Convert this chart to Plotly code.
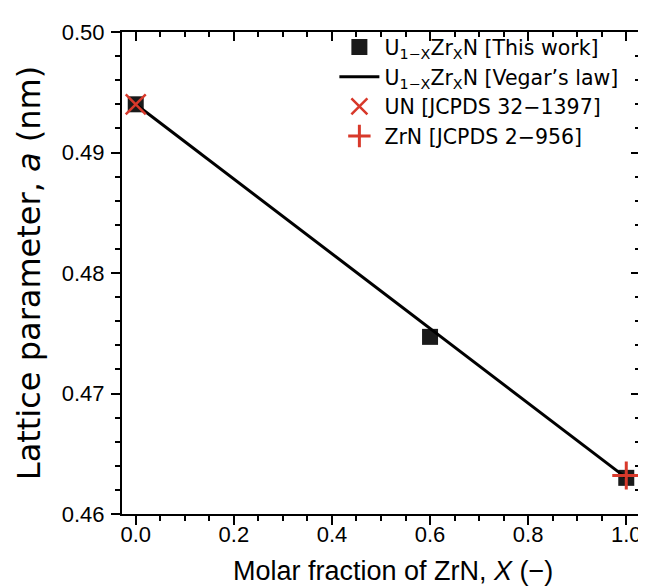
import plotly.graph_objects as go

# Data
x_work = [0.0, 0.6, 1.0]
a_work = [0.4940, 0.4747, 0.4630]
x_vegard = [0.0, 1.0]
a_vegard = [0.4940, 0.4630]
x_un = [0.0]
a_un = [0.4940]
x_zrn = [1.0]
a_zrn = [0.4632]

xticks = [0.0, 0.2, 0.4, 0.6, 0.8, 1.0]
xticklabels = ["0.0", "0.2", "0.4", "0.6", "0.8", "1.0"]
yticks = [0.46, 0.47, 0.48, 0.49, 0.50]
yticklabels = ["0.46", "0.47", "0.48", "0.49", "0.50"]
x_title = "Molar fraction of ZrN, <i>X</i> (−)"
y_title = "Lattice parameter, <i>a</i> (nm)"

FONT = "Liberation Sans"
WFONT = "DejaVu Sans"
RED = "#d8392b"
xr = [-0.028, 1.028]
yr = [0.46, 0.50]

fig = go.Figure()
fig.add_trace(go.Scatter(x=x_work, y=a_work, mode="markers",
                         marker=dict(symbol="square", size=16, color="#1a1a1a"),
                         name="U<sub>1−X</sub>Zr<sub>X</sub>N [This work]"))
fig.add_trace(go.Scatter(x=x_vegard, y=a_vegard, mode="lines",
                         line=dict(color="black", width=3),
                         name="U<sub>1−X</sub>Zr<sub>X</sub>N [Vegar’s law]"))
fig.add_trace(go.Scatter(x=x_un, y=a_un, mode="markers",
                         marker=dict(symbol="x-thin", size=20, line=dict(color=RED, width=2.5)),
                         name="UN [JCPDS 32−1397]"))
fig.add_trace(go.Scatter(x=x_zrn, y=a_zrn, mode="markers",
                         marker=dict(symbol="cross-thin", size=20, line=dict(color=RED, width=3)),
                         name="ZrN [JCPDS 2−956]"))
# invisible trace for mirrored inside-tick axes
fig.add_trace(go.Scatter(x=x_vegard, y=a_vegard, xaxis="x2", yaxis="y2", mode="lines",
                         line=dict(width=0), opacity=0, showlegend=False, hoverinfo="skip"))

axis_common = dict(showgrid=False, zeroline=False, showline=True, linecolor="black", linewidth=2,
                   tickcolor="black", tickwidth=2)

fig.update_layout(
    width=646, height=588,
    margin=dict(l=114, r=12, t=19, b=82),
    plot_bgcolor="white", paper_bgcolor="white",
    font=dict(family=FONT, color="black"),
    showlegend=True,
    legend=dict(x=0.41, y=1.01, xanchor="left", yanchor="top", bgcolor="rgba(0,0,0,0)",
                font=dict(family=WFONT, size=20.5, color="black"), tracegroupgap=0,
                itemwidth=40),
    xaxis=dict(range=xr, tickvals=xticks, ticktext=xticklabels, ticks="outside", ticklen=9,
               tickfont=dict(size=22, family=FONT), ticklabeloverflow="allow", ticklabelstandoff=-9,
               minor=dict(dtick=0.05, tick0=0, ticks="outside", ticklen=5, tickwidth=2, tickcolor="black"),
               **axis_common),
    yaxis=dict(range=yr, tickvals=yticks, ticktext=yticklabels, ticks="outside", ticklen=9,
               tickfont=dict(size=22, family=FONT), ticklabelstandoff=2,
               minor=dict(dtick=0.002, tick0=0.46, ticks="outside", ticklen=5, tickwidth=2, tickcolor="black"),
               title=dict(text=y_title, font=dict(size=32, family=WFONT), standoff=12),
               **axis_common),
    xaxis2=dict(range=xr, overlaying="x", side="top", tickvals=xticks, showticklabels=False,
                ticks="inside", ticklen=9,
                minor=dict(dtick=0.05, tick0=0, ticks="inside", ticklen=5, tickwidth=2, tickcolor="black"),
                **axis_common),
    yaxis2=dict(range=yr, overlaying="y", side="right", tickvals=yticks, showticklabels=False,
                ticks="inside", ticklen=9,
                minor=dict(dtick=0.002, tick0=0.46, ticks="inside", ticklen=5, tickwidth=2, tickcolor="black"),
                **axis_common),
    annotations=[dict(text=x_title, xref="x", yref="paper", x=0.525, y=-0.118,
                      xanchor="center", yanchor="middle", showarrow=False,
                      font=dict(size=27, family=FONT, color="black"))],
)

fig.write_html("out.html")
